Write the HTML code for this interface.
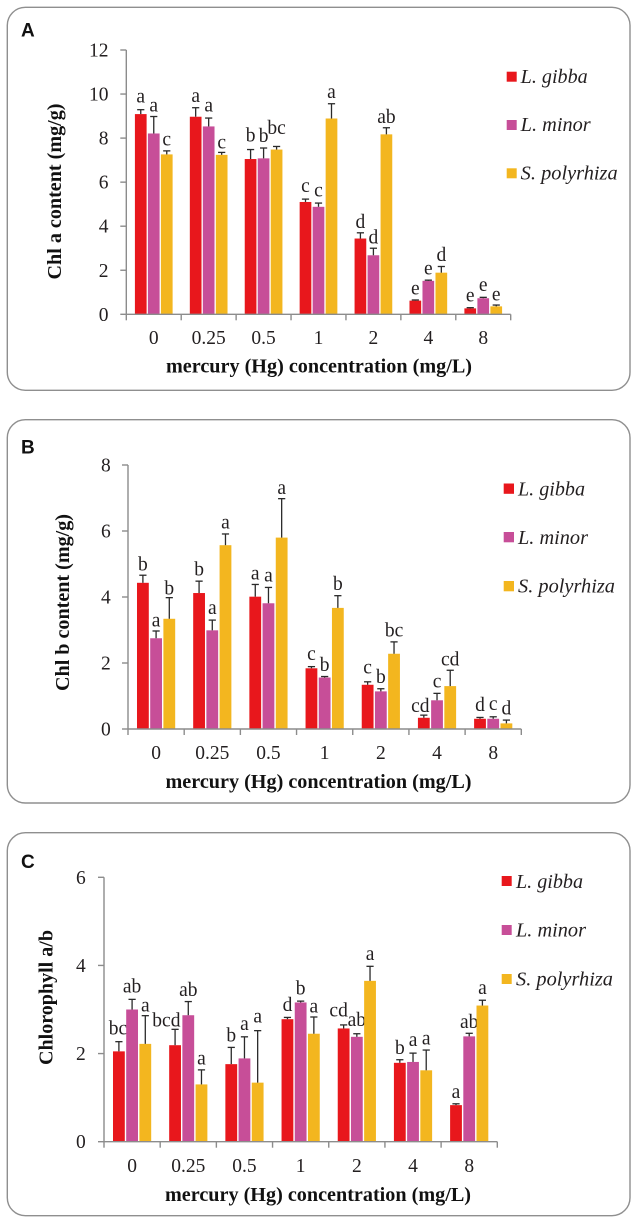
<!DOCTYPE html>
<html lang="en">
<head>
<meta charset="utf-8">
<title>Chlorophyll content under mercury exposure</title>
<style>
html,body{margin:0;padding:0;background:#fff;width:638px;height:1221px;overflow:hidden}
svg{display:block}
text{font-family:"Liberation Serif",serif;fill:#231f20}
.panel-letter{font-family:"Liberation Sans",sans-serif;font-weight:700;font-size:19px;fill:#111}
.axis-title{font-weight:700;font-size:19.5px;fill:#111}
.legend-text{font-style:italic;font-size:19.5px}
.tick-label{font-size:19.5px}
.sig{font-size:19.5px;text-anchor:middle}
.frame{fill:#fff;stroke:#8f8f8f;stroke-width:1.4}
</style>
</head>
<body>
<svg id="chart" xmlns="http://www.w3.org/2000/svg" width="638" height="1221" viewBox="0 0 638 1221">
  <rect width="638" height="1221" fill="#fff"/>

  <g id="panel-a">
    <rect class="frame" x="7.3" y="7.3" width="622.7" height="383" rx="18"/>
    <text class="panel-letter" x="21" y="36.5">A</text>
    <text class="axis-title" transform="translate(61,279.5) rotate(-90)" textLength="176" lengthAdjust="spacingAndGlyphs">Chl a content (mg/g)</text>
    <text class="axis-title" x="166" y="372.5" textLength="306" lengthAdjust="spacingAndGlyphs">mercury (Hg) concentration (mg/L)</text>
    <rect x="506.7" y="71.7" width="10" height="10" fill="#e8171c"/>
    <text class="legend-text" x="520.7" y="83" textLength="67" lengthAdjust="spacingAndGlyphs">L. gibba</text>
    <rect x="506.7" y="120" width="10" height="10" fill="#c74e98"/>
    <text class="legend-text" x="520.7" y="131" textLength="70" lengthAdjust="spacingAndGlyphs">L. minor</text>
    <rect x="506.7" y="168.3" width="10" height="10" fill="#f3b61f"/>
    <text class="legend-text" x="520.7" y="179.5" textLength="97" lengthAdjust="spacingAndGlyphs">S. polyrhiza</text>
  </g>

  <g id="panel-b">
    <rect class="frame" x="7.3" y="419.7" width="622.7" height="383.3" rx="18"/>
    <text class="panel-letter" x="21" y="453.5">B</text>
    <text class="axis-title" transform="translate(69,691) rotate(-90)" textLength="177" lengthAdjust="spacingAndGlyphs">Chl b content (mg/g)</text>
    <text class="axis-title" x="165.5" y="788" textLength="306" lengthAdjust="spacingAndGlyphs">mercury (Hg) concentration (mg/L)</text>
    <rect x="503.7" y="483.5" width="10.3" height="10.3" fill="#e8171c"/>
    <text class="legend-text" x="518" y="495.7" textLength="67" lengthAdjust="spacingAndGlyphs">L. gibba</text>
    <rect x="503.7" y="532" width="10.3" height="10.3" fill="#c74e98"/>
    <text class="legend-text" x="518" y="544" textLength="70" lengthAdjust="spacingAndGlyphs">L. minor</text>
    <rect x="503.7" y="581" width="10.3" height="10.3" fill="#f3b61f"/>
    <text class="legend-text" x="518" y="592.5" textLength="97" lengthAdjust="spacingAndGlyphs">S. polyrhiza</text>
  </g>

  <g id="panel-c">
    <rect class="frame" x="7.3" y="832.7" width="622.7" height="383" rx="18"/>
    <text class="panel-letter" x="21" y="868">C</text>
    <text class="axis-title" transform="translate(52.7,1065) rotate(-90)" textLength="135" lengthAdjust="spacingAndGlyphs">Chlorophyll a/b</text>
    <text class="axis-title" x="165" y="1201" textLength="306" lengthAdjust="spacingAndGlyphs">mercury (Hg) concentration (mg/L)</text>
    <rect x="501.7" y="876" width="10" height="10" fill="#e8171c"/>
    <text class="legend-text" x="516" y="888" textLength="67" lengthAdjust="spacingAndGlyphs">L. gibba</text>
    <rect x="501.7" y="925" width="10" height="10" fill="#c74e98"/>
    <text class="legend-text" x="516" y="936.7" textLength="70" lengthAdjust="spacingAndGlyphs">L. minor</text>
    <rect x="501.7" y="974" width="10" height="10" fill="#f3b61f"/>
    <text class="legend-text" x="516" y="985.7" textLength="97" lengthAdjust="spacingAndGlyphs">S. polyrhiza</text>
  </g>
</svg>

<script>
// Shared categories
const concentrations = ['0', '0.25', '0.5', '1', '2', '4', '8'];
const seriesNames = ['gibba', 'minor', 'polyrhiza'];

// Panel A: Chl a content (mg/g)
const ticksA = [0, 2, 4, 6, 8, 10, 12];
const chlAGibba = [9.09, 8.97, 7.05, 5.10, 3.44, 0.62, 0.27];
const chlAMinor = [8.21, 8.53, 7.08, 4.88, 2.68, 1.52, 0.73];
const chlAPolyrhiza = [7.26, 7.24, 7.48, 8.89, 8.17, 1.89, 0.36];
const chlAGibbaErr = [0.20, 0.41, 0.43, 0.13, 0.26, 0.03, 0.03];
const chlAMinorErr = [0.77, 0.38, 0.47, 0.17, 0.32, 0.03, 0.04];
const chlAPolyrhizaErr = [0.16, 0.11, 0.14, 0.67, 0.30, 0.28, 0.06];
const chlAGibbaSig = ['a', 'a', 'b', 'c', 'd', 'e', 'e'];
const chlAMinorSig = ['a', 'a', 'b', 'c', 'd', 'e', 'e'];
const chlAPolyrhizaSig = ['c', 'c', 'bc', 'a', 'ab', 'd', 'e'];

// Panel B: Chl b content (mg/g)
const ticksB = [0, 2, 4, 6, 8];
const chlBGibba = [4.43, 4.12, 4.01, 1.84, 1.34, 0.34, 0.31];
const chlBMinor = [2.75, 2.99, 3.81, 1.56, 1.14, 0.87, 0.31];
const chlBPolyrhiza = [3.34, 5.57, 5.80, 3.67, 2.28, 1.30, 0.17];
const chlBGibbaErr = [0.23, 0.36, 0.37, 0.05, 0.09, 0.08, 0.04];
const chlBMinorErr = [0.22, 0.31, 0.48, 0.03, 0.08, 0.21, 0.06];
const chlBPolyrhizaErr = [0.64, 0.34, 1.18, 0.37, 0.36, 0.48, 0.10];
const chlBGibbaSig = ['b', 'b', 'a', 'c', 'c', 'cd', 'd'];
const chlBMinorSig = ['a', 'a', 'a', 'b', 'b', 'c', 'c'];
const chlBPolyrhizaSig = ['b', 'a', 'a', 'b', 'bc', 'cd', 'd'];

// Panel C: Chlorophyll a/b
const ticksC = [0, 2, 4, 6];
const ratioGibba = [2.05, 2.19, 1.76, 2.78, 2.57, 1.79, 0.83];
const ratioMinor = [3.00, 2.87, 1.89, 3.16, 2.38, 1.81, 2.39];
const ratioPolyrhiza = [2.22, 1.30, 1.34, 2.45, 3.65, 1.62, 3.09];
const ratioGibbaErr = [0.22, 0.36, 0.38, 0.04, 0.08, 0.07, 0.03];
const ratioMinorErr = [0.23, 0.31, 0.49, 0.03, 0.07, 0.20, 0.07];
const ratioPolyrhizaErr = [0.64, 0.33, 1.18, 0.38, 0.33, 0.46, 0.12];
const ratioGibbaSig = ['bc', 'bcd', 'b', 'd', 'cd', 'b', 'a'];
const ratioMinorSig = ['ab', 'ab', 'a', 'b', 'ab', 'a', 'ab'];
const ratioPolyrhizaSig = ['a', 'a', 'a', 'a', 'a', 'a', 'a'];

// Layout (separate from the data)
const seriesColors = ['#e8171c', '#c74e98', '#f3b61f'];
const SVG_NS = 'http://www.w3.org/2000/svg';
const defaultLift = 5.5;

const panels = [
  {
    key: 'a', root: 'panel-a', x0: 126.3, x1: 510.7, yTop: 50, yBase: 314.3, labelRight: 108.5,
    xLabelY: 344, barW: 11.7, barStep: 13, ticks: ticksA,
    values: [chlAGibba, chlAMinor, chlAPolyrhiza],
    errors: [chlAGibbaErr, chlAMinorErr, chlAPolyrhizaErr],
    sig: [chlAGibbaSig, chlAMinorSig, chlAPolyrhizaSig],
    nudge: {'0-0':[0,7.3],'0-1':[0,5],'1-1':[0,6.7],'1-2':[0,4],'2-0':[0,8],'2-1':[0,6],'2-2':[0,12.7],'3-0':[0,7],'3-1':[0,6.7],'3-2':[0,5.7],'4-0':[0,4.7],'4-1':[0,4.7],'4-2':[0,4.7],'6-0':[0,6],'6-1':[0,6.3],'6-2':[0,4.3]}
  },
  {
    key: 'b', root: 'panel-b', x0: 128, x1: 521.3, yTop: 465, yBase: 729, labelRight: 110.7,
    xLabelY: 759, barW: 11.8, barStep: 13.2, ticks: ticksB,
    values: [chlBGibba, chlBMinor, chlBPolyrhiza],
    errors: [chlBGibbaErr, chlBMinorErr, chlBPolyrhizaErr],
    sig: [chlBGibbaSig, chlBMinorSig, chlBPolyrhizaSig],
    nudge: {'0-0':[0,4.7],'0-1':[0,4.3],'0-2':[0,3.3],'1-1':[0,6],'2-0':[0,5],'2-1':[0,6],'2-2':[0,4.7],'3-0':[0,6.7],'3-2':[0,5.7],'4-0':[0,8.3],'5-0':[-3.5,3.3],'5-1':[0,6],'5-2':[0,4.7],'6-0':[0,6.7],'6-1':[0,6.7]}
  },
  {
    key: 'c', root: 'panel-c', x0: 104, x1: 497.3, yTop: 877.3, yBase: 1141.7, labelRight: 85.7,
    xLabelY: 1172, barW: 11.8, barStep: 13.2, ticks: ticksC,
    values: [ratioGibba, ratioMinor, ratioPolyrhiza],
    errors: [ratioGibbaErr, ratioMinorErr, ratioPolyrhizaErr],
    sig: [ratioGibbaSig, ratioMinorSig, ratioPolyrhizaSig],
    nudge: {'0-0':[-1,7.3],'0-1':[0,6.7],'0-2':[0,4],'1-0':[-8.7,2.7],'1-1':[0,5.7],'2-0':[0,5.7],'2-1':[0,6.7],'2-2':[0,8.3],'3-0':[0,6.3],'3-1':[0,6.7],'3-2':[0,4.7],'4-0':[-5,8.3],'4-1':[0,7.7],'4-2':[0,6.3],'5-1':[0,7],'5-2':[0,5.7],'6-0':[0,6],'6-2':[0,6]}
  }
];

function make(tag, attrs, parent) {
  const el = document.createElementNS(SVG_NS, tag);
  Object.keys(attrs).forEach(function (k) { el.setAttribute(k, attrs[k]); });
  parent.appendChild(el);
  return el;
}

function drawPanel(p) {
  const root = document.getElementById(p.root);
  const yMax = p.ticks[p.ticks.length - 1];
  const groupW = (p.x1 - p.x0) / concentrations.length;
  const xBand = function (i) { return p.x0 + groupW * i; };
  const xCenter = function (i, s) { return xBand(i) + groupW / 2 + (s - 1) * p.barStep; };
  const yScale = function (v) { return p.yBase - (v / yMax) * (p.yBase - p.yTop); };

  // Bars, error bars and significance letters
  p.values.forEach(function (series, s) {
    series.forEach(function (v, i) {
      const cx = xCenter(i, s);
      const bar = make('rect', {x: cx - p.barW / 2, y: yScale(v), width: p.barW, height: p.yBase - yScale(v), fill: seriesColors[s]}, root);
      
      

      const top = yScale(v + p.errors[s][i]);
      const stem = make('line', {x1: cx, x2: cx, y1: yScale(v), y2: top, stroke: '#2a2a2a', 'stroke-width': 1.3}, root);
      
      
      const cap = make('line', {x1: cx - 3.6, x2: cx + 3.6, y1: top, y2: top, stroke: '#2a2a2a', 'stroke-width': 1.3}, root);
      
      

      const n = p.nudge[i + '-' + s] || [0, defaultLift];
      const sig = make('text', {'class': 'sig', x: cx + n[0], y: top - n[1]}, root);
      sig.textContent = p.sig[s][i];
      
      
    });
  });

  // Axes
  const axisStyle = {stroke: '#8c8c8c', 'stroke-width': 1.4};
  const yAxis = make('line', Object.assign({x1: p.x0, x2: p.x0, y1: p.yTop, y2: p.yBase}, axisStyle), root);
  
  
  const xAxis = make('line', Object.assign({x1: p.x0, x2: p.x1, y1: p.yBase, y2: p.yBase}, axisStyle), root);
  
  

  p.ticks.forEach(function (t) {
    const y = yScale(t);
    const mark = make('line', Object.assign({x1: p.x0 - 6, x2: p.x0, y1: y, y2: y}, axisStyle), root);
    
    
    const label = make('text', {'class': 'tick-label', x: p.labelRight, y: y + 6.5, 'text-anchor': 'end'}, root);
    label.textContent = String(t);
    
    
  });

  for (let i = 0; i <= concentrations.length; i++) {
    const x = xBand(i);
    const mark = make('line', Object.assign({x1: x, x2: x, y1: p.yBase, y2: p.yBase + 6}, axisStyle), root);
    
    
  }

  concentrations.forEach(function (c, i) {
    const label = make('text', {'class': 'tick-label', x: xBand(i) + groupW / 2, y: p.xLabelY, 'text-anchor': 'middle'}, root);
    label.textContent = c;
    
    
  });
}

panels.forEach(drawPanel);
</script>
</body>
</html>
